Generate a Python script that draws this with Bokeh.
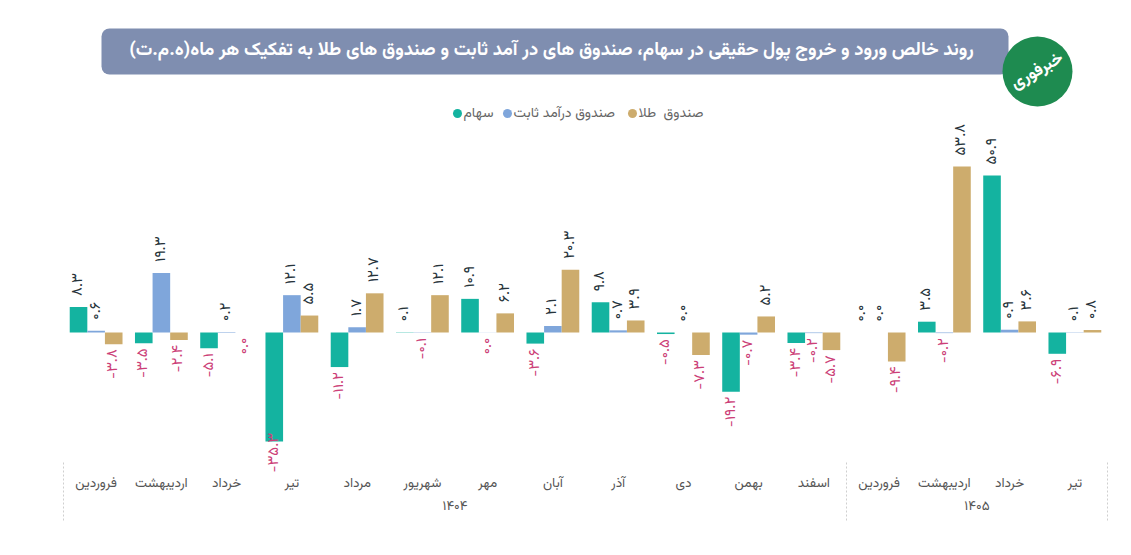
from math import pi

from bokeh.core.properties import value
from bokeh.embed import file_html
from bokeh.models import BoxAnnotation, ColumnDataSource, Range1d
from bokeh.plotting import figure
from bokeh.resources import INLINE

# ---- data (هزار میلیارد تومان) ----
months = ["فروردین", "اردیبهشت", "خرداد", "تیر", "مرداد", "شهریور", "مهر", "آبان",
          "آذر", "دی", "بهمن", "اسفند", "فروردین", "اردیبهشت", "خرداد", "تیر"]
years = ["۱۴۰۴", "۱۴۰۵"]
year_span = [12, 4]

series_names = ["سهام", "صندوق درآمد ثابت", "صندوق\u00a0\u00a0طلا"]
stocks = [8.3, -3.5, -5.1, -35.3, -11.2, 0.1, 10.9, -3.6, 9.8, -0.5, -19.2, -3.4, 0.0, 3.5, 50.9, -6.9]
fixed_income = [0.6, 19.3, 0.2, 12.1, 1.7, -0.1, -0.04, 2.1, 0.7, 0.0, -0.7, -0.2, 0.0, -0.2, 0.9, 0.1]
gold_funds = [-3.8, -2.4, -0.04, 5.5, 12.7, 12.1, 6.2, 20.3, 3.9, -7.3, 5.2, -5.7, -9.4, 53.8, 3.6, 0.8]

colors = ["#14b3a0", "#7fa6db", "#cdac6d"]
POS_COLOR = "#26333a"
NEG_COLOR = "#cc3f78"
FA_FONT = "Vazirmatn, 'Noto Sans Arabic', 'DejaVu Sans', sans-serif"

W, H = 1131, 555
# pixel geometry of the plotting band
PX_LEFT, PX_CAT = 63.0, 65.25     # left edge of first month, width per month
PX_ZERO, PX_UNIT = 332.0, 3.0855  # y pixel of zero line, pixels per unit


def xd(px):
    return (px - PX_LEFT) / PX_CAT


def yd(py):
    return (PX_ZERO - py) / PX_UNIT


FA_DIGITS = str.maketrans("0123456789", "۰۱۲۳۴۵۶۷۸۹")


def fa_label(v):
    s = f"{v:.1f}"
    if s == "-0.0":
        s = "0.0"
    return s.translate(FA_DIGITS)


p = figure(width=W, height=H, x_range=Range1d(xd(0), xd(W)), y_range=Range1d(yd(H), yd(0)),
           x_axis_type=None, y_axis_type=None, toolbar_location=None,
           output_backend="svg", min_border=0, outline_line_color=None)
p.grid.visible = False
p.background_fill_color = "white"

bar_w = 17.6 / PX_CAT
idx = list(range(len(months)))

for j, (vals, col) in enumerate(zip([stocks, fixed_income, gold_funds], colors)):
    xs = [i + 0.5 + (j - 1) * bar_w for i in idx]
    p.vbar(x=xs, top=vals, bottom=0, width=bar_w, fill_color=col, line_color=None)

    texts, ys, tcols, aligns = [], [], [], []
    for v in vals:
        texts.append(fa_label(v))
        if v >= 0:
            ys.append(v + 11 / PX_UNIT)
            tcols.append(POS_COLOR)
            aligns.append("left")
        else:
            end_px = PX_ZERO - v * PX_UNIT + 5
            est_len = 8.0 * len(texts[-1])
            tcols.append(NEG_COLOR)
            if end_px + est_len > 472:
                ys.append(yd(472))
                aligns.append("left")
            else:
                ys.append(v - 5 / PX_UNIT)
                aligns.append("right")
    src = ColumnDataSource(dict(x=xs, y=ys, t=texts, c=tcols, a=aligns))
    p.text(x="x", y="y", text="t", source=src, angle=pi / 2, text_color="c",
           text_align="a", text_baseline="middle", text_font=value(FA_FONT),
           text_font_size="15px")

# month and year labels along the bottom
p.text(x=[i + 0.5 for i in idx], y=[yd(483)] * len(idx), text=months,
       text_align="center", text_baseline="middle", text_color="#555555",
       text_font=value(FA_FONT), text_font_size="13.5px")
starts = [sum(year_span[:k]) for k in range(len(year_span))]
p.text(x=[s + n / 2 for s, n in zip(starts, year_span)], y=[yd(506)] * len(years), text=years,
       text_align="center", text_baseline="middle", text_color="#555555",
       text_font=value(FA_FONT), text_font_size="13.5px")
bounds = starts + [sum(year_span)]
p.segment(x0=bounds, x1=bounds, y0=[yd(462)] * len(bounds), y1=[yd(520)] * len(bounds),
          line_color="#cfcfcf", line_dash="2 2", line_width=1)

# legend
leg_dot_px = [457, 507, 632]
p.scatter(x=[xd(v) for v in leg_dot_px], y=[yd(113)] * 3, size=9, marker="circle",
          fill_color=colors, line_color=None)
p.text(x=[xd(v + 6) for v in leg_dot_px], y=[yd(113)] * 3, text=series_names,
       text_align="left", text_baseline="middle", text_color="#666666",
       text_font=value(FA_FONT), text_font_size="14px")

# title banner
banner = BoxAnnotation(left=xd(101), right=xd(1008), top=yd(28), bottom=yd(74),
                       fill_color="#7f8eb0", fill_alpha=1, line_color=None,
                       border_radius=8, level="underlay")
p.add_layout(banner)
title = "\u200fروند خالص ورود و خروج پول حقیقی در سهام، صندوق های در آمد ثابت و صندوق های طلا به تفکیک هر ماه(ه.م.ت)\u200f"
p.text(x=[xd(551)], y=[yd(50)], text=[title], text_align="center", text_baseline="middle",
       text_color="white", text_font=value(FA_FONT), text_font_style="bold",
       text_font_size="18.5px")

# logo
p.scatter(x=[xd(1037)], y=[yd(71)], size=70, marker="circle", fill_color="#1e8b50",
          line_color=None)
p.text(x=[xd(1037)], y=[yd(71)], text=["خبرفوری"], angle=pi / 6, text_align="center",
       text_baseline="middle", text_color="white", text_font=value(FA_FONT),
       text_font_style="bold", text_font_size="17px")

open("out.html", "w").write(file_html(p, INLINE))
